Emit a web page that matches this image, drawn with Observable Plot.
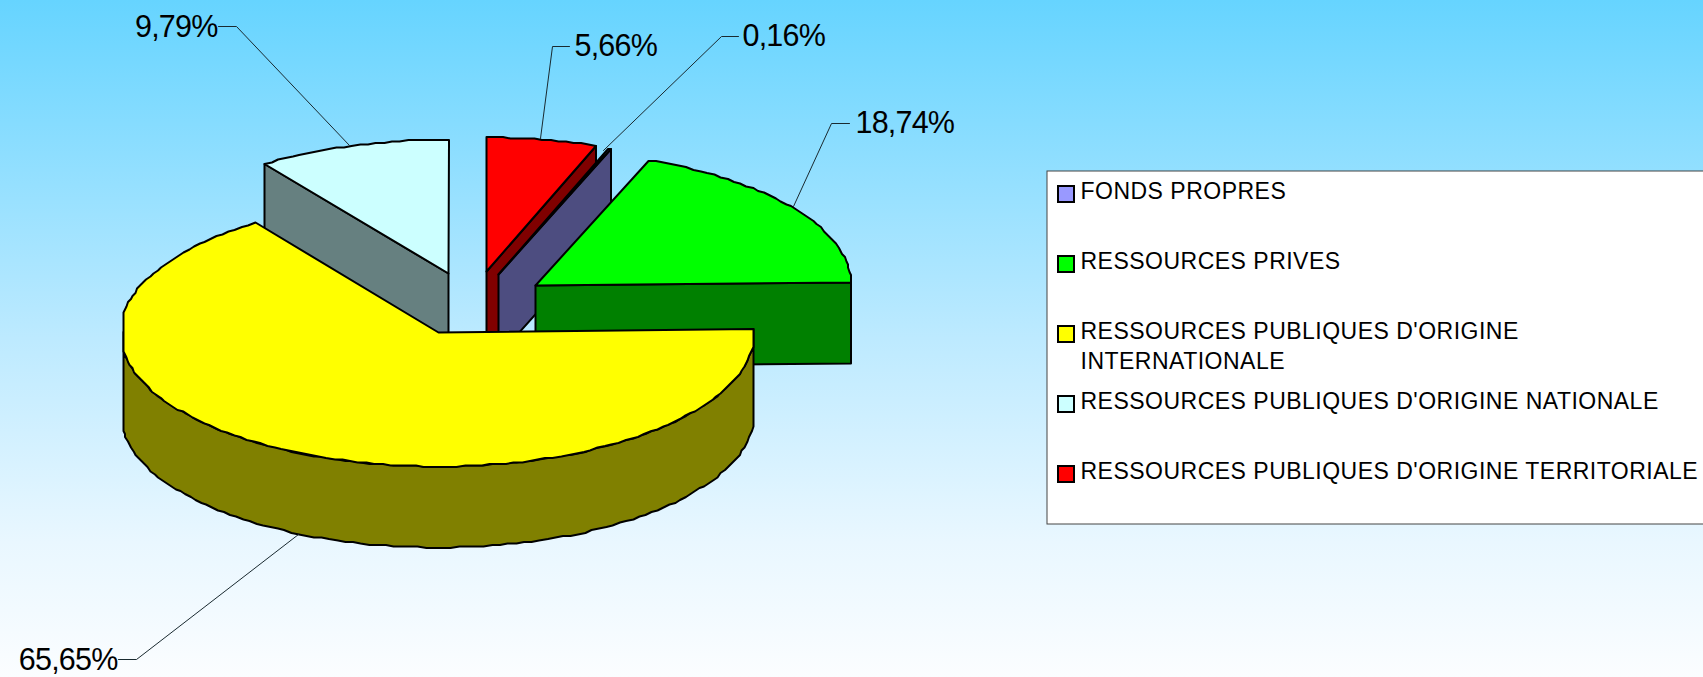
<!DOCTYPE html>
<html>
<head>
<meta charset="utf-8">
<script src="https://cdn.jsdelivr.net/npm/d3@7"></script>
<script src="https://cdn.jsdelivr.net/npm/@observablehq/plot@0.6"></script>
<style>html,body{margin:0;padding:0;overflow:hidden;background:#fff}svg{display:block}</style>
</head>
<body>
<div id="chart"></div>
<script>
// values, clockwise from the top of the pie
const categories = ["RESSOURCES PUBLIQUES D'ORIGINE TERRITORIALE", "FONDS PROPRES", "RESSOURCES PRIVES", "RESSOURCES PUBLIQUES D'ORIGINE INTERNATIONALE", "RESSOURCES PUBLIQUES D'ORIGINE NATIONALE"];
const shares = [5.66, 0.16, 18.74, 65.65, 9.79];
const shareLabels = ["5,66%", "0,16%", "18,74%", "65,65%", "9,79%"];
const topColors = ["#ff0000", "#9999ff", "#00ff00", "#ffff00", "#ccffff"];
const wallColors = ["#800000", "#4d4d80", "#008000", "#808000", "#668080"];

// legend order and wrapped labels
const legendOrder = [1, 2, 3, 4, 0];
const legendLabels = ["FONDS PROPRES", "RESSOURCES PRIVES", "RESSOURCES PUBLIQUES D'ORIGINE\nINTERNATIONALE", "RESSOURCES PUBLIQUES D'ORIGINE NATIONALE", "RESSOURCES PUBLIQUES D'ORIGINE TERRITORIALE"];
const legendRows = [192, 262, 332, 402, 472];

// projected pie layout
const rxLeft = 318, rxRight = 316, ry = 134, maxDx = 315, depth = 81, grid = 1.5;
const apexes = [[486, 271], [498, 274], [535, 285], [438, 332], [448, 273]];
const leaderPaths = [
  [[569, 46], [552, 46], [540, 138]],
  [[738, 36], [721, 36], [603, 150]],
  [[849, 123], [831, 123], [793, 206]],
  [[118, 659], [136, 659], [298, 534]],
  [[218, 26], [236, 26], [349, 145]]
];
const labelAnchors = [[574, 46, "start"], [742, 36, "start"], [855, 123, "start"], [117, 660, "end"], [217, 27, "end"]];

// slice geometry derived from the shares: 3/4 turn is the top of the pie
let cum = 270;
const spans = shares.map(s => { const a = cum; cum += s * 3.6; return [a, cum]; });
const snap = v => Math.round(v / grid) * grid;
const rim = (i, deg, dy = 0) => {
  const t = deg * Math.PI / 180, [ax, ay] = apexes[i], c = Math.cos(t);
  const dx = Math.max(-maxDx, Math.min(maxDx, (c < 0 ? rxLeft : rxRight) * c));
  return {x: snap(ax + dx), y: snap(ay + ry * Math.sin(t)) + dy};
};
const arc = (i, a, b, dy = 0) => {
  const n = Math.max(1, Math.ceil(Math.abs(b - a) / 1.5));
  return d3.range(n + 1).map(k => rim(i, a + (b - a) * k / n, dy));
};
const apexPt = (i, dy = 0) => ({x: apexes[i][0], y: apexes[i][1] + dy});
const topFace = i => [apexPt(i), ...arc(i, spans[i][0], spans[i][1])];
const cutFace = (i, deg) => [apexPt(i), rim(i, deg), rim(i, deg, depth), apexPt(i, depth)];
const poly = (pts, fill, strokeWidth = 2) =>
  Plot.line(pts, {x: "x", y: "y", fill, stroke: "#000", strokeWidth, curve: "linear-closed", strokeLinejoin: "round"});

const [RED, PURPLE, GREEN, YELLOW, CYAN] = [0, 1, 2, 3, 4];
const outerWall = [...arc(YELLOW, spans[YELLOW][0] - 360, 180), ...arc(YELLOW, 180, spans[YELLOW][0] - 360, depth)];
const labelRows = shareLabels.map((s, i) => ({s, x: labelAnchors[i][0], y: labelAnchors[i][1], a: labelAnchors[i][2]}));
const labelStyle = {x: "x", y: "y", text: "s", fontSize: 30.5, fill: "#000", lineAnchor: "middle"};

const marks = [
  poly(cutFace(CYAN, spans[CYAN][0]), wallColors[CYAN]),
  poly(topFace(CYAN), topColors[CYAN]),
  poly(cutFace(RED, spans[RED][1]), wallColors[RED]),
  poly(topFace(RED), topColors[RED]),
  poly(cutFace(PURPLE, spans[PURPLE][1]), wallColors[PURPLE]),
  poly(topFace(PURPLE), topColors[PURPLE]),
  poly(cutFace(GREEN, spans[GREEN][1]), wallColors[GREEN]),
  poly(topFace(GREEN), topColors[GREEN]),
  poly(outerWall, wallColors[YELLOW]),
  poly(topFace(YELLOW), topColors[YELLOW]),
  ...leaderPaths.map(p => Plot.line(p, {x: d => d[0], y: d => d[1], stroke: "#1a2a30", strokeWidth: 1})),
  Plot.text(labelRows.filter(d => d.a === "start"), {...labelStyle, textAnchor: "start"}),
  Plot.text(labelRows.filter(d => d.a === "end"), {...labelStyle, textAnchor: "end"}),
  // legend
  Plot.rect([{x1: 1047, x2: 1720, y1: 171, y2: 524}], {x1: "x1", x2: "x2", y1: "y1", y2: "y2", fill: "#fff", stroke: "#444", strokeWidth: 1}),
  Plot.rect(legendOrder.map((c, r) => ({c, y: legendRows[r]})), {
    x1: () => 1058, x2: () => 1074, y1: d => d.y - 6, y2: d => d.y + 10,
    fill: d => topColors[d.c], stroke: "#000", strokeWidth: 2}),
  Plot.text(legendLabels.map((s, r) => ({s, y: legendRows[r]})), {
    x: () => 1080, y: d => d.y - 15, text: "s", textAnchor: "start", lineAnchor: "top",
    fontSize: 23, lineHeight: 1.31, fill: "#000"})
];

const svg = Plot.plot({
  width: 1703, height: 677, margin: 0,
  x: {domain: [0, 1703], range: [0, 1703], axis: null},
  y: {domain: [0, 677], range: [0, 677], axis: null},
  style: {fontFamily: "'Liberation Sans', Arial, sans-serif", background: "linear-gradient(to bottom, #66d4ff 0%, #bdeaff 50%, #e9f7ff 80%, #fbfdff 100%)", overflow: "hidden"},
  marks
});
// tracking that Plot has no option for
svg.querySelectorAll("text").forEach(t => {
  const size = +t.closest("[font-size]").getAttribute("font-size");
  t.style.letterSpacing = size === 23 ? "0.49px" : "-0.8px";
});
document.getElementById("chart").appendChild(svg);
</script>
</body>
</html>
